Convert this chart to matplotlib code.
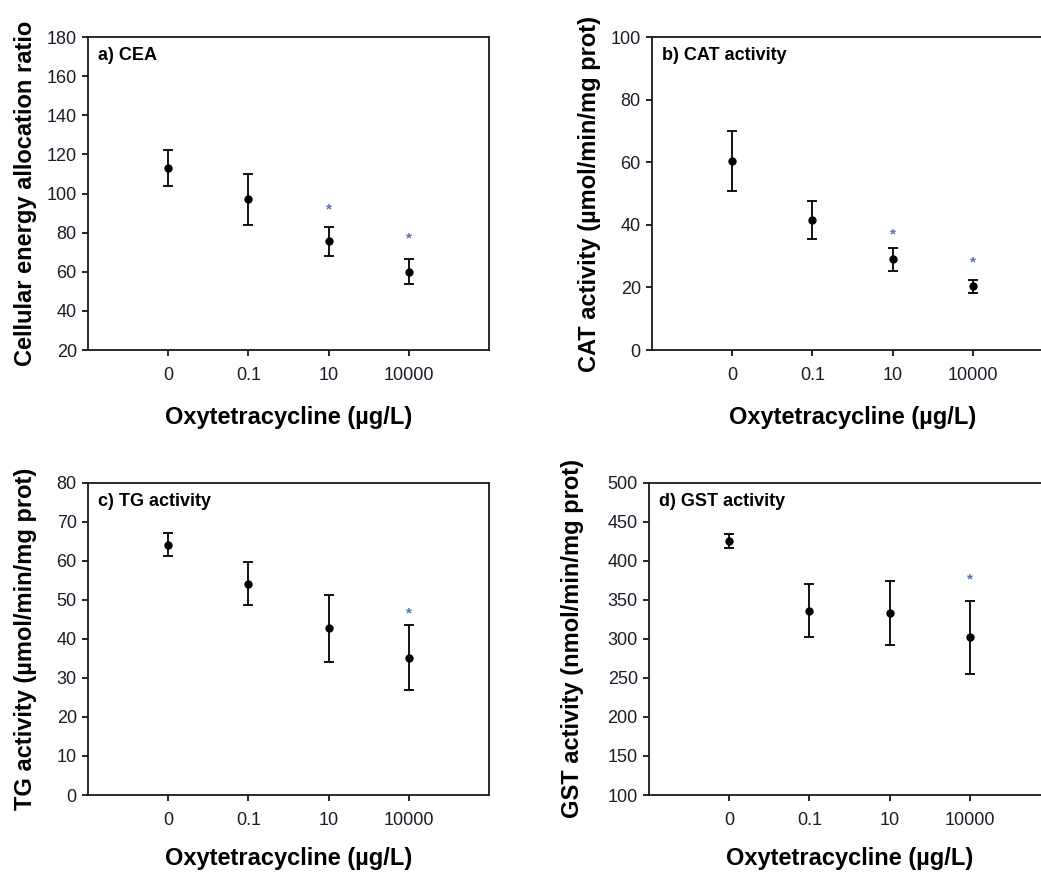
import matplotlib
matplotlib.use("Agg")
import matplotlib.pyplot as plt
import numpy as np

plt.rcParams["font.family"] = ["Liberation Sans", "DejaVu Sans"]

# ---- data: mean +/- error per OTC concentration
conc_labels = ["0", "0.1", "10", "10000"]

cea_mean = [113, 97, 75.5, 60]
cea_err = [9, 13, 7.5, 6.5]
cea_star_x = [2, 3]
cea_star_y = [92, 77]

cat_mean = [60.3, 41.5, 29, 20.4]
cat_err = [9.6, 6, 3.6, 2.1]
cat_star_x = [2, 3]
cat_star_y = [37, 28]

tg_mean = [64.2, 54.2, 42.8, 35.2]
tg_err = [2.9, 5.6, 8.6, 8.4]
tg_star_x = [3]
tg_star_y = [46.5]

gst_mean = [425, 336, 333, 302]
gst_err = [9, 34, 41, 47]
gst_star_x = [3]
gst_star_y = [376]

STAR_COLOR = "#5676a8"
TICK_COLOR = "#1c1c28"


def draw_panel(ax, mean, err, star_x, star_y, title, ylabel, ylim, ystep,
               ylab_x, xlab_y):
    x = np.arange(len(conc_labels))
    ax.errorbar(x, mean, yerr=err, fmt="o", color="black", ms=5,
                elinewidth=1.3, capsize=3.8, capthick=1.3)
    for sx, sy in zip(star_x, star_y):
        ax.text(sx, sy, "*", ha="center", va="center", color=STAR_COLOR,
                fontsize=11, fontweight="bold")

    ax.set_xlim(-1, 4)
    ax.set_ylim(*ylim)
    ax.set_xticks(x)
    ax.set_xticklabels(conc_labels)
    ax.set_yticks(np.arange(ylim[0], ylim[1] + ystep / 2, ystep))

    ax.tick_params(axis="both", direction="out", length=4, width=1.2,
                   labelsize=13, labelcolor=TICK_COLOR)
    ax.tick_params(axis="x", pad=8)
    ax.tick_params(axis="y", pad=4)
    for sp in ax.spines.values():
        sp.set_linewidth(1.3)
        sp.set_color("#1a1a1a")

    ax.text(0.025, 0.969, title, transform=ax.transAxes, ha="left", va="top",
            fontsize=13, fontweight="bold")
    ax.set_xlabel("Oxytetracycline (µg/L)", fontsize=17, fontweight="bold")
    ax.xaxis.set_label_coords(0.5, xlab_y)
    ax.set_ylabel(ylabel, fontsize=17, fontweight="bold")
    ax.yaxis.set_label_coords(ylab_x, 0.5)


fig = plt.figure(figsize=(10.41, 8.77), dpi=100)

# right-hand panels run past the figure edge, as in the original layout
ax_a = fig.add_axes([0.0845, 0.6009, 0.3852, 0.3569])
ax_b = fig.add_axes([0.6263, 0.6009, 0.3852, 0.3569])
ax_c = fig.add_axes([0.0845, 0.0935, 0.3852, 0.3558])
ax_d = fig.add_axes([0.6234, 0.0935, 0.3852, 0.3558])

draw_panel(ax_a, cea_mean, cea_err, cea_star_x, cea_star_y, "a) CEA",
           "Cellular energy allocation ratio", (20, 180), 20, -0.127, -0.18)
draw_panel(ax_b, cat_mean, cat_err, cat_star_x, cat_star_y, "b) CAT activity",
           "CAT activity (µmol/min/mg prot)", (0, 100), 20, -0.127, -0.18)
draw_panel(ax_c, tg_mean, tg_err, tg_star_x, tg_star_y, "c) TG activity",
           "TG activity (µmol/min/mg prot)", (0, 80), 10, -0.127, -0.166)
draw_panel(ax_d, gst_mean, gst_err, gst_star_x, gst_star_y, "d) GST activity",
           "GST activity (nmol/min/mg prot)", (100, 500), 50, -0.162, -0.166)

fig.savefig("out.png", dpi=100)
